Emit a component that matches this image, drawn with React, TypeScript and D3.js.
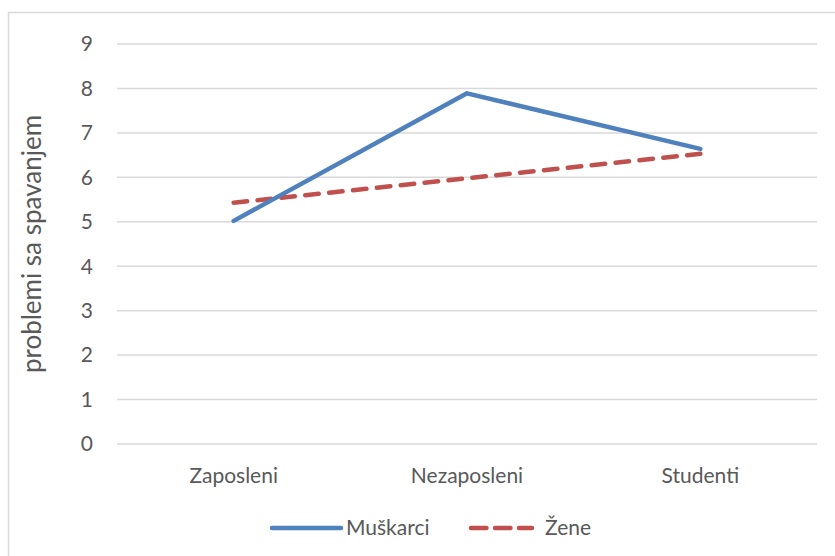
import React, { useEffect, useRef } from 'react';
import * as d3 from 'd3';

// chart data
const categories = ['Zaposleni', 'Nezaposleni', 'Studenti'];
const muskarci = [5.02, 7.89, 6.64];
const zene = [5.43, 5.98, 6.53];
const yTicks = [0, 1, 2, 3, 4, 5, 6, 7, 8, 9];
const seriesNames = ['Muškarci', 'Žene'];

const App = () => {
  const svgRef = useRef<SVGSVGElement>(null);
  const width = 835,
    height = 556;
  const margin = { top: 44, right: 18, bottom: 112, left: 117 };
  const font = 'Lato, "Open Sans", sans-serif';

  useEffect(() => {
    const svg = d3.select(svgRef.current);
    svg.selectAll('*').remove();

    // chart frame (only top and left edges are visible)
    svg.append('rect')
      .attr('x', 8.5)
      .attr('y', 12.5)
      .attr('width', 900)
      .attr('height', 700)
      .attr('fill', 'white')
      .attr('stroke', '#d9d9d9')
      .attr('stroke-width', 1.5);

    const x = d3.scaleBand()
      .domain(categories)
      .range([margin.left, width - margin.right]);

    const y = d3.scaleLinear()
      .domain([0, 9])
      .range([height - margin.bottom, margin.top]);

    // gridlines
    svg.append('g')
      .selectAll('line')
      .data(yTicks)
      .join('line')
      .attr('x1', margin.left)
      .attr('x2', width - margin.right)
      .attr('y1', d => y(d))
      .attr('y2', d => y(d))
      .attr('stroke', '#d9d9d9')
      .attr('stroke-width', 1.5);

    // y tick labels
    svg.append('g')
      .selectAll('text')
      .data(yTicks)
      .join('text')
      .attr('x', 93)
      .attr('y', d => y(d))
      .attr('dy', '0.35em')
      .attr('text-anchor', 'end')
      .attr('font-family', font)
      .attr('font-size', 21)
      .attr('fill', '#595959')
      .text(d => d);

    // x labels
    svg.append('g')
      .selectAll('text')
      .data(categories)
      .join('text')
      .attr('x', d => x(d)! + x.bandwidth() / 2)
      .attr('y', 483)
      .attr('text-anchor', 'middle')
      .attr('font-family', font)
      .attr('font-size', 21)
      .attr('fill', '#595959')
      .text(d => d);

    // y axis title
    svg.append('text')
      .attr('transform', `translate(41,${(y(0) + y(9)) / 2}) rotate(-90)`)
      .attr('text-anchor', 'middle')
      .attr('font-family', font)
      .attr('font-size', 26)
      .attr('fill', '#595959')
      .text('problemi sa spavanjem');

    const line = d3.line<number>()
      .x((d, i) => x(categories[i])! + x.bandwidth() / 2)
      .y(d => y(d));

    svg.append('path')
      .datum(zene)
      .attr('d', line)
      .attr('fill', 'none')
      .attr('stroke', '#c0504d')
      .attr('stroke-width', 4.5)
      .attr('stroke-linecap', 'round')
      .attr('stroke-dasharray', '13.5 10.5');

    svg.append('path')
      .datum(muskarci)
      .attr('d', line)
      .attr('fill', 'none')
      .attr('stroke', '#4f81bd')
      .attr('stroke-width', 4.5)
      .attr('stroke-linecap', 'round')
      .attr('stroke-linejoin', 'round');

    // legend
    const legend = svg.append('g').attr('transform', 'translate(0,528)');
    legend.append('line')
      .attr('x1', 272).attr('x2', 341)
      .attr('stroke', '#4f81bd')
      .attr('stroke-width', 4.5)
      .attr('stroke-linecap', 'round');
    legend.append('text')
      .attr('x', 346)
      .attr('dy', '0.35em')
      .attr('font-family', font)
      .attr('font-size', 21)
      .attr('fill', '#595959')
      .text(seriesNames[0]);
    legend.append('line')
      .attr('x1', 471).attr('x2', 532)
      .attr('stroke', '#c0504d')
      .attr('stroke-width', 4.5)
      .attr('stroke-linecap', 'round')
      .attr('stroke-dasharray', '15.5 8.5');
    legend.append('text')
      .attr('x', 545)
      .attr('dy', '0.35em')
      .attr('font-family', font)
      .attr('font-size', 21)
      .attr('fill', '#595959')
      .text(seriesNames[1]);
  }, []);

  return (
    <svg
      ref={svgRef}
      width={width}
      height={height}
      style={{ position: 'absolute', left: 0, top: 0, background: 'white' }}
    />
  );
};

export default App;
